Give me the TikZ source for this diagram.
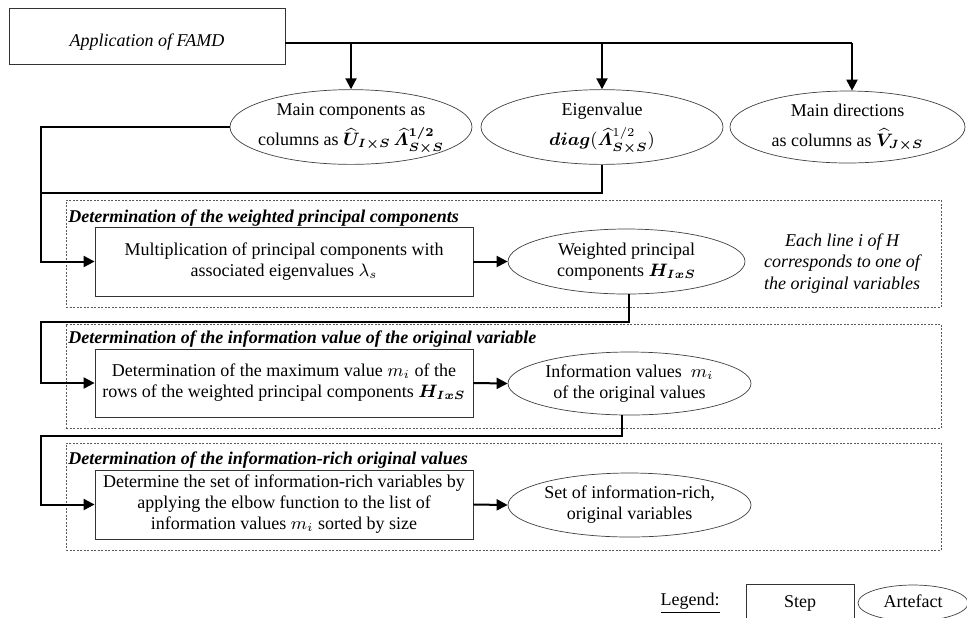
\documentclass[tikz,border=0pt]{standalone}
\usepackage{amsmath,bm}
\usepackage{fontspec}
\setmainfont{Liberation Serif}
\usetikzlibrary{shapes.geometric,arrows.meta,calc}
\newcommand{\ztext}[1]{\makebox[0pt][c]{\begin{tabular}{@{}c@{}}#1\end{tabular}}}
\tikzset{
  stepbox/.style={draw=black!80, line width=0.4pt, rectangle, inner sep=0pt, align=center},
  artefact/.style={draw=black!75, line width=0.35pt, ellipse, inner sep=0pt, align=center},
  conn/.style={line width=1pt, -{Triangle[length=5.5pt,width=5.5pt]}},
  plainline/.style={line width=1pt},
  groupbox/.style={draw=black!65, line width=0.4pt, dash pattern=on 1pt off 0.75pt, rectangle, inner sep=0pt},
  grouplabel/.style={font=\fontsize{9}{10.5}\selectfont\bfseries\itshape, anchor=base west, inner sep=0pt},
  note/.style={font=\fontsize{9}{10.75}\selectfont\itshape, align=center, inner sep=0pt}
}
\begin{document}
\begin{tikzpicture}[x=0.5pt,y=-0.5pt,font=\fontsize{9}{10.5}\selectfont]
\clip (0,0) rectangle (967,617);
\fill[white] (0,0) rectangle (967,617);

% group boxes
\node[groupbox, minimum width=437.5pt, minimum height=53.5pt] (g1) at (503.5,253.5) {};
\node[groupbox, minimum width=437.5pt, minimum height=52pt] (g2) at (503.5,376) {};
\node[groupbox, minimum width=437.5pt, minimum height=53.5pt] (g3) at (503.5,496.5) {};
\node[grouplabel] (l1) at (68,222) {Determination of the weighted principal components};
\node[grouplabel] (l2) at (68,343) {Determination of the information value of the original variable};
\node[grouplabel] (l3) at (68,464) {Determination of the information-rich original values};

% top
\node[stepbox, minimum width=138pt, minimum height=28pt] (famd) at (147,36)
  {\raisebox{-3pt}[\height][\depth]{\itshape Application of FAMD}};
\node[artefact, minimum width=121pt, minimum height=32pt] (e1) at (351,127)
  {\ztext{Main components as\\[3pt]columns as $\widehat{\bm U}_{\bm{I\times S}}\,\widehat{\bm\varLambda}{}^{\bm{1/2}}_{\bm{S\times S}}$}};
\node[artefact, minimum width=121pt, minimum height=32pt] (e2) at (602,127)
  {\ztext{Eigenvalue\\[3pt]$\bm{diag}(\widehat{\bm\varLambda}{}^{1/2}_{\bm{S\times S}})$}};
\node[artefact, minimum width=117.5pt, minimum height=32pt] (e3) at (847.5,127)
  {\ztext{Main directions\\[3pt]as columns as $\widehat{\bm V}_{\bm{J\times S}}$}};

% row 1
\node[stepbox, minimum width=189pt, minimum height=34.5pt] (b1) at (284,261.5)
  {Multiplication of principal components with\\associated eigenvalues $\lambda_s$};
\node[artefact, minimum width=118.5pt, minimum height=32.5pt] (w) at (626.5,261.5)
  {\ztext{Weighted principal\\components $\bm{H_{IxS}}$}};
\node[note] (n1) at (842,263.5) {Each line i of H\\corresponds to one of\\the original variables};

% row 2
\node[stepbox, minimum width=189pt, minimum height=34pt] (b2) at (284,383)
  {Determination of the maximum value $m_i$ of the\\rows of the weighted principal components $\bm{H_{IxS}}$};
\node[artefact, minimum width=121.5pt, minimum height=31.5pt] (info) at (629.5,383.5)
  {\ztext{Information values~ $m_i$\\of the original values}};

% row 3
\node[stepbox, minimum width=189pt, minimum height=34.5pt] (b3) at (284,504.5)
  {Determine the set of information-rich variables by\\applying the elbow function to the list of\\information values $m_i$ sorted by size};
\node[artefact, minimum width=121.5pt, minimum height=32pt] (set) at (629.5,505)
  {\ztext{Set of information-rich,\\original variables}};

% legend
\node[inner sep=0pt] (leg) at (690,603) {\underline{Legend:}};
\node[stepbox, minimum width=54pt, minimum height=19pt] (lstep) at (800,603) {Step};
\node[artefact, minimum width=55pt, minimum height=18pt] (lart) at (913,603) {\ztext{Artefact}};

% connectors
\coordinate (j) at (852,43);
\coordinate (k0) at (41,193);
\coordinate (k1) at (41,322);
\coordinate (k2) at (41,436);
\draw[plainline] (famd.east |- j) -- (j);
\draw[conn] (e1.north |- j) -- (e1.north);
\draw[conn] (e2.north |- j) -- (e2.north);
\draw[conn] (j) -- (j |- e3.north);
\draw[conn] (e1.west) -| (k0) |- (b1.west);
\draw[plainline] (e2.south) |- (k0);
\draw[conn] (b1.east) -- (w.west);
\draw[conn] ($(w.south)+(2.5,0)$) |- (k1) |- (b2.west);
\draw[conn] (b2.east) -- (info.west);
\draw[conn] ($(info.south)+(-7.5,0)$) |- (k2) |- (b3.west);
\draw[conn] (b3.east) -- (set.west);
\end{tikzpicture}
\end{document}
